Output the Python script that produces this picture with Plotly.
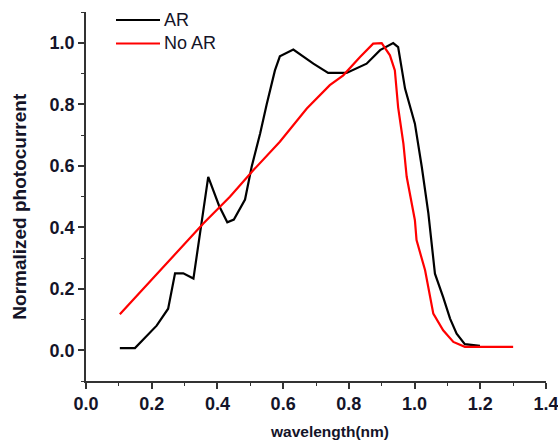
import plotly.graph_objects as go

ar_x = [0.103, 0.149, 0.215, 0.25, 0.271, 0.296, 0.327, 0.352, 0.372, 0.405, 0.43, 0.45, 0.484,
        0.504, 0.53, 0.55, 0.575, 0.59, 0.631, 0.692, 0.737, 0.793, 0.854, 0.895, 0.935,
        0.95, 0.971, 1.001, 1.022, 1.042, 1.062, 1.087, 1.108, 1.128, 1.153, 1.199]
ar_y = [0.007, 0.007, 0.08, 0.135, 0.25, 0.25, 0.233, 0.42, 0.564, 0.47, 0.416, 0.425, 0.49,
        0.596, 0.705, 0.80, 0.91, 0.956, 0.978, 0.932, 0.902, 0.902, 0.932, 0.976, 0.999,
        0.986, 0.851, 0.737, 0.596, 0.445, 0.249, 0.173, 0.103, 0.054, 0.02, 0.014]

noar_x = [0.103, 0.357, 0.438, 0.509, 0.59, 0.672, 0.742, 0.783, 0.834, 0.874, 0.9, 0.925,
          0.94, 0.95, 0.966, 0.976, 1.001, 1.006, 1.032, 1.057, 1.087, 1.118, 1.153, 1.3]
noar_y = [0.117, 0.412, 0.499, 0.585, 0.678, 0.786, 0.862, 0.894, 0.954, 0.997, 0.999, 0.959,
          0.91, 0.79, 0.672, 0.564, 0.423, 0.358, 0.26, 0.119, 0.065, 0.027, 0.011, 0.011]

x_ticks = [0.0, 0.2, 0.4, 0.6, 0.8, 1.0, 1.2, 1.4]
y_ticks = [0.0, 0.2, 0.4, 0.6, 0.8, 1.0]

series_names = ["AR", "No AR"]
series_colors = ["black", "#ff0000"]

FONT = "Arial, Liberation Sans, sans-serif"
TXT = "#141428"

# plot area wanted at page x 86..546, y 12..381 (body margin removed below)
W, H = 558, 443
L, T, B = 86, 12, 62
R = W - 546
PW, PH = W - L - R, H - T - B


def px(xp):  # page pixel -> paper
    return (xp - L) / PW


def py(yp):
    return (H - B - yp) / PH


fig = go.Figure()
fig.add_trace(go.Scatter(x=ar_x, y=ar_y, mode="lines", name=series_names[0],
                         line=dict(color=series_colors[0], width=2.2), showlegend=False))
fig.add_trace(go.Scatter(x=noar_x, y=noar_y, mode="lines", name=series_names[1],
                         line=dict(color=series_colors[1], width=2.2), showlegend=False))

axis_common = dict(showgrid=False, zeroline=False, showline=True, linecolor="#333333",
                   linewidth=1.5, ticks="outside", ticklen=6, tickwidth=1.5,
                   tickcolor="#333333", mirror=False, automargin=False,
                   ticklabeloverflow="allow",
                   tickfont=dict(family=FONT, size=18, color=TXT, weight="bold"),
                   minor=dict(ticks="outside", ticklen=3, tickwidth=1.2, tickcolor="#333333",
                              dtick=0.1))

shapes = []
annotations = []
for i, (name, col) in enumerate(zip(series_names, series_colors)):
    yl = [20, 43.5][i]
    shapes.append(dict(type="line", xref="paper", yref="paper", x0=px(116), x1=px(160),
                       y0=py(yl), y1=py(yl), line=dict(color=col, width=2.2)))
    annotations.append(dict(xref="paper", yref="paper", x=px(162), y=py(yl), text=name,
                            showarrow=False, xanchor="left", yanchor="middle",
                            font=dict(family=FONT, size=18, color=TXT)))

annotations.append(dict(xref="paper", yref="paper", x=px(329.5), y=py(431),
                        text="<b>wavelength(nm)</b>", showarrow=False,
                        xanchor="center", yanchor="middle",
                        font=dict(family=FONT, size=15.5, color=TXT)))
annotations.append(dict(xref="paper", yref="paper", x=px(20), y=py(206.7),
                        text="<b>Normalized photocurrent</b>", showarrow=False, textangle=-90,
                        xanchor="center", yanchor="middle",
                        font=dict(family=FONT, size=19, color=TXT)))

fig.update_layout(
    width=W, height=H,
    margin=dict(l=L, r=R, t=T, b=B),
    paper_bgcolor="white", plot_bgcolor="white",
    font=dict(family=FONT, color=TXT),
    xaxis=dict(range=[0, 1.4], tickvals=x_ticks, ticktext=[f"{v:.1f}" for v in x_ticks],
               **axis_common),
    yaxis=dict(range=[-0.1, 1.1], tickvals=y_ticks, ticktext=[f"{v:.1f}" for v in y_ticks],
               **axis_common),
    shapes=shapes,
    annotations=annotations,
    showlegend=False,
    hovermode=False,
)

fig.write_html("out.html", config={"displayModeBar": False},
               post_script="document.body.style.margin='0';document.body.style.overflow='hidden';")
